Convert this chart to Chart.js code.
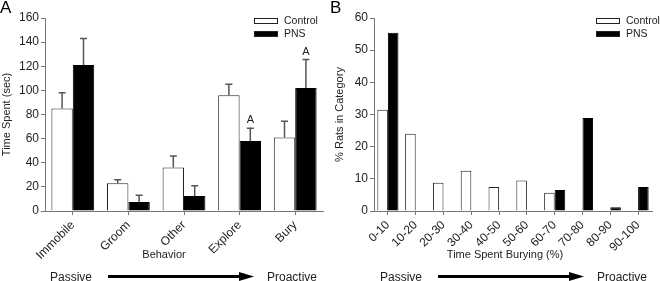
<!DOCTYPE html>
<html>
<head>
<meta charset="utf-8">
<script src="https://cdn.jsdelivr.net/npm/chart.js"></script>
<style>
  body { margin: 0; background: #fff; }
  #wrap { position: relative; width: 660px; height: 281px; }
  canvas { position: absolute; top: 0; }
</style>
</head>
<body>
<div id="wrap">
  <canvas id="chartA" width="330" height="281" style="left:0"></canvas>
  <canvas id="chartB" width="330" height="281" style="left:330px"></canvas>
</div>
<script>
// panel A - time spent per behavior
const behaviors = ['Immobile', 'Groom', 'Other', 'Explore', 'Bury'];
const controlTime = [85, 23, 36, 96, 61];
const controlTimeErr = [13, 3, 9.5, 9, 13.5];
const pnsTime = [121, 7.5, 12.5, 58, 102];
const pnsTimeErr = [22, 5.5, 8.5, 10.5, 23.5];
const pnsTimeMarks = ['', '', '', 'A', 'A'];
const timeTicks = [0, 20, 40, 60, 80, 100, 120, 140, 160];

// panel B - distribution of burying time
const buryBins = ['0-10', '10-20', '20-30', '30-40', '40-50', '50-60', '60-70', '70-80', '80-90', '90-100'];
const controlPct = [31.5, 24, 8.8, 12.5, 7.5, 9.5, 5.7, 0, 0, 0];
const pnsPct = [55.4, 0, 0, 0, 0, 0, 6.5, 28.9, 1.2, 7.5];
const pctTicks = [0, 10, 20, 30, 40, 50, 60];

Chart.defaults.font.family = "'Liberation Sans', Arial, sans-serif";
Chart.defaults.color = '#222';

const overlay = {
  id: 'overlay',
  afterDatasetsDraw(chart, args, opts) {
    const ctx = chart.ctx;
    const ys = chart.scales.y;
    const area = chart.chartArea;
    ctx.save();

    // error bars (upper only) + significance letters
    (opts.errors || []).forEach((errs, i) => {
      if (!errs) return;
      const vals = chart.data.datasets[i].data;
      chart.getDatasetMeta(i).data.forEach((bar, j) => {
        const top = ys.getPixelForValue(vals[j] + errs[j]);
        ctx.strokeStyle = '#555';
        ctx.lineWidth = 1.5;
        ctx.beginPath();
        ctx.moveTo(bar.x, bar.y);
        ctx.lineTo(bar.x, top);
        ctx.moveTo(bar.x - 3.5, top);
        ctx.lineTo(bar.x + 3.5, top);
        ctx.stroke();
        const mark = opts.marks && opts.marks[i] && opts.marks[i][j];
        if (mark) {
          ctx.fillStyle = '#222';
          ctx.font = "11px 'Liberation Sans', Arial";
          ctx.textAlign = 'center';
          ctx.textBaseline = 'alphabetic';
          ctx.fillText(mark, bar.x, top - 5);
        }
      });
    });

    // legend
    chart.data.datasets.forEach((ds, k) => {
      const bx = opts.legendX, by = area.top + k * 13;
      ctx.fillStyle = ds.backgroundColor;
      ctx.fillRect(bx, by, 24, 6);
      ctx.strokeStyle = '#222';
      ctx.lineWidth = 1;
      ctx.strokeRect(bx + 0.5, by + 0.5, 23, 5);
      ctx.fillStyle = '#222';
      ctx.font = "10.5px 'Liberation Sans', Arial";
      ctx.textAlign = 'left';
      ctx.textBaseline = 'middle';
      ctx.fillText(ds.label, bx + 30, by + 3);
    });

    // x title
    ctx.font = "11px 'Liberation Sans', Arial";
    ctx.textAlign = 'center';
    ctx.textBaseline = 'middle';
    ctx.fillText(opts.xTitle, opts.xTitleX, 254.5);

    // passive -> proactive arrow
    ctx.font = "12px 'Liberation Sans', Arial";
    ctx.textAlign = 'left';
    ctx.textBaseline = 'alphabetic';
    ctx.fillText('Passive', 50, 280.5);
    ctx.fillText('Proactive', 267, 280.5);
    ctx.strokeStyle = '#000';
    ctx.lineWidth = 3;
    ctx.beginPath();
    ctx.moveTo(108, 276.5);
    ctx.lineTo(242, 276.5);
    ctx.stroke();
    ctx.fillStyle = '#000';
    ctx.beginPath();
    ctx.moveTo(239, 272);
    ctx.lineTo(254, 276.5);
    ctx.lineTo(239, 281);
    ctx.closePath();
    ctx.fill();

    // panel letter
    ctx.font = "17px 'Liberation Sans', Arial";
    ctx.textBaseline = 'top';
    ctx.fillText(opts.letter, 0, 0);
    ctx.restore();
  }
};

function axes(ticks, max, yTitle, yTitlePad, yWidth) {
  return {
    x: {
      afterFit: s => { s.height = 51; },
      grid: { offset: false, drawOnChartArea: false, tickLength: 4, color: '#777' },
      border: { color: '#777' },
      ticks: { minRotation: 45, maxRotation: 45, autoSkip: false, padding: 3, font: { size: 12 } }
    },
    y: {
      min: 0, max: max,
      afterBuildTicks: s => { s.ticks = ticks.map(v => ({ value: v })); },
      afterFit: s => { s.width = yWidth; },
      grid: { drawOnChartArea: false, tickLength: 4, color: '#777' },
      border: { color: '#777' },
      ticks: { padding: 2, font: { size: 12 } },
      title: { display: true, text: yTitle, font: { size: 11 }, padding: { top: yTitlePad, bottom: 0 } }
    }
  };
}

function datasets(ctrl, pns, pct) {
  return [
    { label: 'Control', data: ctrl, backgroundColor: '#fff', borderColor: '#222', borderWidth: 1,
      categoryPercentage: pct, barPercentage: 1 },
    { label: 'PNS', data: pns, backgroundColor: '#000', borderColor: '#000', borderWidth: 1,
      categoryPercentage: pct, barPercentage: 1 }
  ];
}

new Chart(document.getElementById('chartA'), {
  type: 'bar',
  data: { labels: behaviors, datasets: datasets(controlTime, pnsTime, 0.77) },
  options: {
    responsive: false, animation: false, devicePixelRatio: 1,
    layout: { padding: { top: 18, left: 0, right: 7, bottom: 19 } },
    scales: axes(timeTicks, 160, 'Time Spent (sec)', 0, 45),
    plugins: {
      legend: { display: false }, tooltip: { enabled: false },
      overlay: {
        errors: [controlTimeErr, pnsTimeErr], marks: [null, pnsTimeMarks],
        legendX: 254, xTitle: 'Behavior', xTitleX: 164, letter: 'A'
      }
    }
  },
  plugins: [overlay]
});

new Chart(document.getElementById('chartB'), {
  type: 'bar',
  data: { labels: buryBins, datasets: datasets(controlPct, pnsPct, 0.76) },
  options: {
    responsive: false, animation: false, devicePixelRatio: 1,
    layout: { padding: { top: 18, left: 0, right: 8, bottom: 19 } },
    scales: axes(pctTicks, 60, '% Rats in Category', 3, 44),
    plugins: {
      legend: { display: false }, tooltip: { enabled: false },
      overlay: { legendX: 266, xTitle: 'Time Spent Burying (%)', xTitleX: 175, letter: 'B' }
    }
  },
  plugins: [overlay]
});
</script>
</body>
</html>
